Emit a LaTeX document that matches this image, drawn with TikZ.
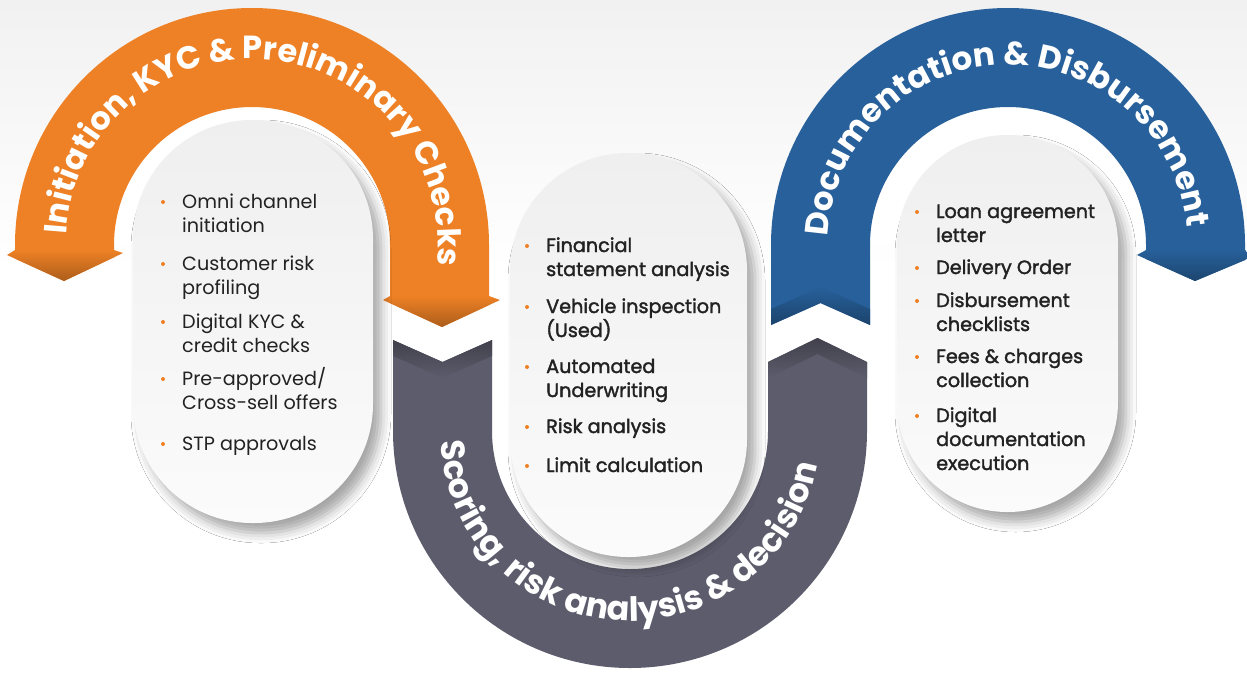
\documentclass[tikz,border=0pt]{standalone}
\usepackage{fontspec}
\setmainfont{Poppins}
\newfontfamily\semib[FakeBold=1.8]{Poppins}
\usetikzlibrary{decorations.text,shadows.blur}

\definecolor{kycorange}{HTML}{EE8125}
\definecolor{docblue}{HTML}{27609A}
\definecolor{scoregray}{HTML}{5D5C6C}
\definecolor{ink}{HTML}{222222}
\definecolor{cardtop}{HTML}{EFEFEF}
\definecolor{cardbot}{HTML}{FBFBFB}
\definecolor{bg}{HTML}{F1F1F1}

\newcommand\bandfont[1]{\bfseries\fontsize{#1}{#1}\selectfont}
\newcommand\listfont{\fontsize{19.2}{24}\selectfont}

\tikzset{
  card/.style={rectangle, rounded corners=#1, inner sep=0pt, top color=cardtop, bottom color=cardbot,
    blur shadow={shadow xshift=8pt, shadow yshift=-10pt, shadow blur radius=10pt, shadow opacity=35}},
  itm/.style={anchor=base west, inner sep=0pt, text=ink, font=\listfont},
  sitm/.style={itm, font=\semib\listfont},
  dot/.style={circle, fill=kycorange, inner sep=0pt, minimum size=4pt},
  arctext/.style 2 args={decorate, decoration={text along path, text align=center, text color=white, text={|\bandfont{#1}|#2}}}
}

\begin{document}
\begin{tikzpicture}[x=1pt,y=-1pt]
\useasboundingbox (0,0) rectangle (1247,672);
\shade[top color=bg, bottom color=white] (0,0) rectangle (1247,270);
\fill[white] (0,270) rectangle (1247,672);

% inner openings
\fill[white] (252,245) circle (138) (114,245) rectangle (390,300);
\fill[white] (630,431) circle (138) (492,340) rectangle (768,431);
\fill[white] (1008,245) circle (138) (870,245) rectangle (1146,325);

% orange arch, tails point down
\fill[kycorange] (15,258.6) -- (15,245) arc[start angle=180, end angle=360, radius=237]
  -- (489,305) -- (442,327) -- (390,303) -- (390,245)
  arc[start angle=0, end angle=-180, radius=138] -- (114,257.3) -- (64,281) -- cycle;
\shade[top color=kycorange, bottom color=kycorange!72!black] (7,255) -- (15,250) -- (114,250) -- (123,253) -- (64,281) -- cycle;
\shade[top color=kycorange, bottom color=kycorange!72!black] (383,300) -- (390,296) -- (489,296) -- (500,300) -- (442,327) -- cycle;

% gray arch, opening up
\fill[scoregray] (393,340) -- (393,431) arc[start angle=180, end angle=0, radius=237]
  -- (867,362) -- (817.5,338) -- (768,362) -- (768,431)
  arc[start angle=0, end angle=180, radius=138] -- (492,340) -- (442.5,362) -- cycle;
\shade[top color=scoregray!70!black, bottom color=scoregray] (393,340) -- (442.5,362) -- (492,340) -- (492,356) -- (442.5,378) -- (393,356) -- cycle;
\shade[top color=scoregray!70!black, bottom color=scoregray] (768,362) -- (817.5,338) -- (867,362) -- (867,378) -- (817.5,354) -- (768,378) -- cycle;

% blue arch
\fill[docblue] (771,325) -- (771,245) arc[start angle=180, end angle=360, radius=237]
  -- (1245,260) -- (1195,281) -- (1146,259) -- (1146,245)
  arc[start angle=0, end angle=-180, radius=138] -- (870,325) -- (820.5,303) -- cycle;
\shade[top color=docblue, bottom color=docblue!70!black] (771,309) -- (820.5,287) -- (870,309) -- (870,325) -- (820.5,303) -- (771,325) -- cycle;
\shade[top color=docblue, bottom color=docblue!72!black] (1137,255) -- (1146,250) -- (1245,250) -- (1252,257) -- (1195,281) -- cycle;

% titles along the arches
\path[arctext={32}{Initiation, KYC {\&} Preliminary Checks}] (252,245) ++(184:186) arc[start angle=184, end angle=365.6, radius=186];
\path[arctext={33.5}{Scoring, risk analysis {\&} decision}] (630,431) ++(177:190) arc[start angle=177, end angle=10, radius=190];
\path[arctext={32.5}{Documentation {\&} Disbursement}] (1008,245) ++(182:180) arc[start angle=182, end angle=355, radius=180];

% cards
\node[card=119pt, minimum width=240pt, minimum height=403pt] (initcard) at (253,321.5) {};
\node[card=118pt, minimum width=237pt, minimum height=404pt] (scorecard) at (628.5,355) {};
\node[card=110pt, minimum width=221pt, minimum height=377pt] (doccard) at (1007.5,323.5) {};

\node[itm] (omni) at (182,208) {\parbox[t]{200pt}{Omni channel\\initiation}};
\node[itm] (custrisk) at (182,270) {\parbox[t]{200pt}{Customer risk\\profiling}};
\node[itm] (dkyc) at (182,328) {\parbox[t]{200pt}{Digital KYC \&\\credit checks}};
\node[itm] (preapp) at (182,385) {\parbox[t]{200pt}{Pre-approved/\\Cross-sell offers}};
\node[itm] (stp) at (182,450) {STP approvals};

\node[sitm] (finstat) at (546,252) {\parbox[t]{200pt}{Financial\\statement analysis}};
\node[sitm] (vehicle) at (546,313) {\parbox[t]{200pt}{Vehicle inspection\\(Used)}};
\node[sitm] (autouw) at (546,373) {\parbox[t]{200pt}{Automated\\Underwriting}};
\node[sitm] (riskan) at (546,433) {Risk analysis};
\node[sitm] (limit) at (546,472) {Limit calculation};

\node[sitm] (loanagr) at (936,218) {\parbox[t]{200pt}{Loan agreement\\letter}};
\node[sitm] (delivery) at (936,274) {Delivery Order};
\node[sitm] (disbcheck) at (936,307) {\parbox[t]{200pt}{Disbursement\\checklists}};
\node[sitm] (fees) at (936,363) {\parbox[t]{200pt}{Fees \& charges\\collection}};
\node[sitm] (digdoc) at (936,422) {\parbox[t]{200pt}{Digital\\documentation\\execution}};

\foreach \n in {omni,custrisk,dkyc,preapp,stp,finstat,vehicle,autouw,riskan,limit,loanagr,delivery,disbcheck,fees,digdoc}
  \node[dot] (\n-dot) at ([xshift=-19pt,yshift=6pt]\n.base west) {};
\end{tikzpicture}
\end{document}
